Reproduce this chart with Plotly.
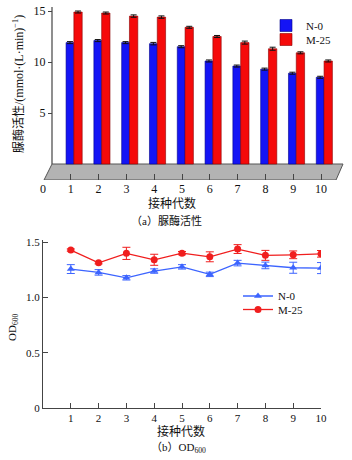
import plotly.graph_objects as go

# ---------------- data ----------------
generations = [1, 2, 3, 4, 5, 6, 7, 8, 9, 10]
urease_N0 = [11.9, 12.1, 11.9, 11.8, 11.5, 10.1, 9.6, 9.3, 8.9, 8.5]
urease_N0_err = [0.1, 0.1, 0.1, 0.12, 0.1, 0.1, 0.1, 0.1, 0.1, 0.1]
urease_M25 = [14.9, 14.8, 14.5, 14.4, 13.4, 12.5, 11.9, 11.3, 10.9, 10.1]
urease_M25_err = [0.1, 0.1, 0.12, 0.12, 0.1, 0.1, 0.15, 0.15, 0.1, 0.1]

od_N0 = [1.257, 1.227, 1.178, 1.239, 1.277, 1.209, 1.311, 1.290, 1.269, 1.266]
od_N0_err = [0.04, 0.025, 0.02, 0.02, 0.02, 0.02, 0.025, 0.03, 0.05, 0.05]
od_M25 = [1.429, 1.314, 1.399, 1.341, 1.401, 1.368, 1.438, 1.381, 1.386, 1.395]
od_M25_err = [0.01, 0.01, 0.055, 0.05, 0.015, 0.045, 0.04, 0.045, 0.035, 0.03]

top_xticks = [0, 1, 2, 3, 4, 5, 6, 7, 8, 9, 10]
top_yticks = [5, 10, 15]
bot_yticks = [0, 0.5, 1.0, 1.5]
bot_yticktext = ["0", "0.5", "1.0", "1.5"]

W, H = 352, 460
FONT = "Liberation Serif, Times New Roman, Noto Sans CJK SC"
BLUE_BAR = "#1414f5"
RED_BAR = "#f50a0a"
BLUE_LINE = "#3c64ff"
RED_LINE = "#f01e1e"
AXIS = "#444444"


def px(x):
    return x / W


def py(y):
    return 1 - y / H


fig = go.Figure()

# ---------- top: urease activity bars ----------
fig.add_trace(go.Bar(
    x=generations, y=urease_N0, name="N-0",
    xaxis="x", yaxis="y", offset=-0.17, width=0.28,
    marker=dict(color=BLUE_BAR, line=dict(color="#00008a", width=0.6)),
    error_y=dict(type="data", array=urease_N0_err, color="#111111", thickness=1, width=3),
    legend="legend",
))
fig.add_trace(go.Bar(
    x=generations, y=urease_M25, name="M-25",
    xaxis="x", yaxis="y", offset=0.11, width=0.30,
    marker=dict(color=RED_BAR, line=dict(color="#8a0000", width=0.6)),
    error_y=dict(type="data", array=urease_M25_err, color="#111111", thickness=1, width=3),
    legend="legend2",
))

# ---------- bottom: OD600 lines ----------
fig.add_trace(go.Scatter(
    x=generations, y=od_N0, name="N-0", mode="lines+markers",
    xaxis="x2", yaxis="y2",
    line=dict(color=BLUE_LINE, width=1.3),
    marker=dict(symbol="triangle-up", size=7, color=BLUE_LINE),
    error_y=dict(type="data", array=od_N0_err, color=BLUE_LINE, thickness=1, width=4),
    legend="legend3",
))
fig.add_trace(go.Scatter(
    x=generations, y=od_M25, name="M-25", mode="lines+markers",
    xaxis="x2", yaxis="y2",
    line=dict(color=RED_LINE, width=1.3),
    marker=dict(symbol="circle", size=7, color=RED_LINE),
    error_y=dict(type="data", array=od_M25_err, color=RED_LINE, thickness=1, width=4),
    legend="legend4",
))

# top axes geometry
x0_px, unit_px = 43.0, 27.8
top_xrange = [0, (349 - x0_px) / unit_px]
y0_px, yunit_px = 164.0, 10.2
top_yrange = [(y0_px - 180) / yunit_px, (y0_px - 5) / yunit_px]
yaxis_x = (52 - x0_px) / unit_px

fig.update_layout(
    width=W, height=H,
    margin=dict(l=0, r=0, t=0, b=0),
    paper_bgcolor="white", plot_bgcolor="rgba(0,0,0,0)",
    font=dict(family=FONT, size=12, color="#111111"),
    barmode="overlay",
    showlegend=True,
    xaxis=dict(
        domain=[px(43), px(349)], range=top_xrange, anchor="y",
        tickmode="array", tickvals=top_xticks,
        ticks="inside", ticklen=6, tickcolor=AXIS,
        showline=False, showgrid=False, zeroline=False,
        tickfont=dict(size=12), automargin=False,
    ),
    yaxis=dict(
        domain=[py(180), py(5)], range=top_yrange, anchor="free",
        position=px(52),
        tickmode="array", tickvals=top_yticks,
        ticks="outside", ticklen=4, tickcolor=AXIS,
        showline=False, showgrid=False, zeroline=False,
        tickfont=dict(size=12), automargin=False,
    ),
    xaxis2=dict(
        domain=[px(43), px(321)], range=[0, 10], anchor="y2",
        tickmode="array", tickvals=generations,
        ticks="inside", ticklen=5, tickcolor=AXIS,
        showline=True, linecolor=AXIS, linewidth=1.2,
        showgrid=False, zeroline=False,
        tickfont=dict(size=11), automargin=False,
    ),
    yaxis2=dict(
        domain=[py(408), py(240)], range=[0, 1.52], anchor="x2",
        tickmode="array", tickvals=bot_yticks, ticktext=bot_yticktext,
        ticks="inside", ticklen=5, tickcolor=AXIS,
        showline=True, linecolor=AXIS, linewidth=1.2,
        showgrid=False, zeroline=False,
        tickfont=dict(size=11), automargin=False,
    ),
    legend=dict(x=px(266), y=py(11), xanchor="left", yanchor="top",
                bgcolor="rgba(0,0,0,0)", font=dict(size=11), itemwidth=30),
    legend2=dict(x=px(266), y=py(25), xanchor="left", yanchor="top",
                 bgcolor="rgba(0,0,0,0)", font=dict(size=11), itemwidth=30),
    legend3=dict(x=px(238), y=py(281.5), xanchor="left", yanchor="top",
                 bgcolor="rgba(0,0,0,0)", font=dict(size=11), itemwidth=30),
    legend4=dict(x=px(238), y=py(295), xanchor="left", yanchor="top",
                 bgcolor="rgba(0,0,0,0)", font=dict(size=11), itemwidth=30),
)

# floor of the pseudo-3D bar chart and its back axis line
floor_back_l = yaxis_x
floor_back_r = (343 - x0_px) / unit_px
floor_front_l = (44 - x0_px) / unit_px
floor_front_r = (336 - x0_px) / unit_px
yf = top_yrange[0]
fig.add_shape(
    type="path", xref="x", yref="y", layer="below",
    path=f"M {floor_back_l},0 L {floor_back_r},0 L {floor_front_r},{yf} L {floor_front_l},{yf} Z",
    fillcolor="#b3b3b3", line=dict(color="#555555", width=1),
)
fig.add_shape(
    type="line", xref="x", yref="y", layer="below",
    x0=yaxis_x, x1=yaxis_x, y0=0, y1=15.4,
    line=dict(color=AXIS, width=1.2),
)

# texts: axis titles and captions
ann = [
    dict(text="脲酶活性/(mmol·(L·min)<sup>−1</sup>)", x=px(18), y=py(84), textangle=-90, size=12),
    dict(text="接种代数", x=px(172), y=py(203), textangle=0, size=12),
    dict(text="（a）脲酶活性", x=px(166), y=py(220), textangle=0, size=11),
    dict(text="OD<sub>600</sub>", x=px(13), y=py(327), textangle=-90, size=11),
    dict(text="接种代数", x=px(181), y=py(431), textangle=0, size=12),
    dict(text="（b）OD<sub>600</sub>", x=px(178), y=py(448), textangle=0, size=11),
]
for a in ann:
    fig.add_annotation(
        text=a["text"], x=a["x"], y=a["y"], xref="paper", yref="paper",
        xanchor="center", yanchor="middle", showarrow=False,
        textangle=a["textangle"], font=dict(size=a["size"], family=FONT, color="#111111"),
    )

fig.write_html("out.html")
